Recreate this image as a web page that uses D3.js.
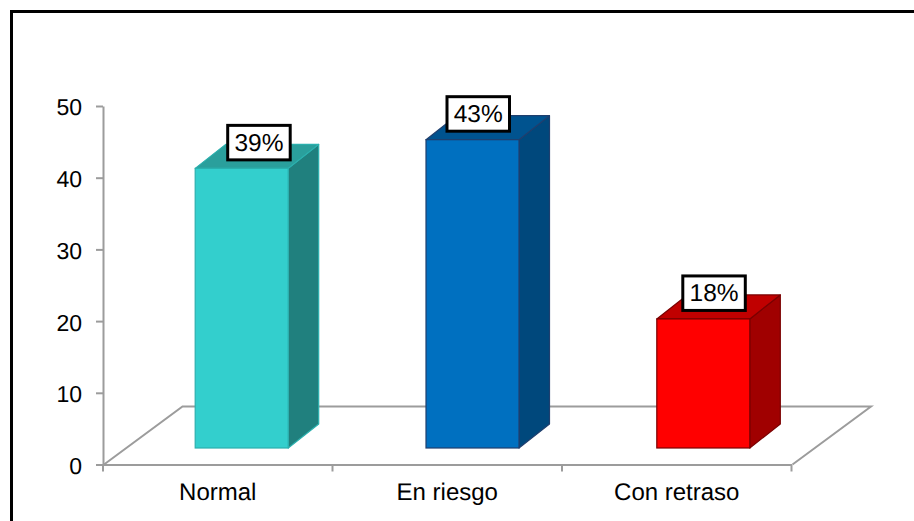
<!DOCTYPE html>
<html>
<head>
<meta charset="utf-8">
<script src="https://cdn.jsdelivr.net/npm/d3@7"></script>
<style>
html,body{margin:0;padding:0;background:#fff;overflow:hidden}
svg{display:block}
text{font-family:"Liberation Sans",Arial,sans-serif;fill:#000;text-rendering:geometricPrecision}
</style>
</head>
<body>
<svg id="chart" width="914" height="521"></svg>
<script>
const categories = ["Normal", "En riesgo", "Con retraso"];
const values = [39, 43, 18];
const percentLabels = ["39%", "43%", "18%"];
const yTicks = [0, 10, 20, 30, 40, 50];
const frontColors = ["#33CFCD", "#0070C0", "#FF0000"];
const topColors = ["#2A9F9C", "#00538F", "#C00000"];
const sideColors = ["#20807E", "#00487C", "#A00000"];
const edgeColors = ["#2BB0AE", "#1F3F6E", "#7A0000"];
const labelDx = [32.5, 21, 26];

const W = 914, H = 521;
const plot = {left: 103, right: 791.5, top: 106, bottom: 464.5};
const depth = {dx: 30.5, dy: -24};
const floorDepth = {dx: 78.5, dy: -58};
const baseLift = 16.5;
const barW = 93;

const svg = d3.select("#chart");
svg.append("rect").attr("x", 11.5).attr("y", 11.5).attr("width", W + 20).attr("height", H + 20)
  .attr("fill", "#fff").attr("stroke", "#000").attr("stroke-width", 3);

const x = d3.scaleBand().domain(categories).range([plot.left, plot.right]).padding(0);
const barBand = d3.scaleBand().domain(categories).range([195.2, 195.2 + 3 * 230.8]).padding(0);
const y = d3.scaleLinear().domain([0, 50]).range([plot.bottom, plot.top]);

// floor
const grey = "#9C9C9C";
const fx0 = plot.left + 1, fy0 = plot.bottom, fx1 = plot.right + 1;
svg.append("path")
  .attr("d", d3.line()([[fx0, fy0], [fx0 + floorDepth.dx, fy0 + floorDepth.dy], [fx1 + floorDepth.dx, fy0 + floorDepth.dy], [fx1, fy0]]))
  .attr("fill", "none").attr("stroke", grey).attr("stroke-width", 2);

// axes
const yAxis = svg.append("g").attr("transform", `translate(${plot.left},0)`)
  .call(d3.axisLeft(y).tickValues(yTicks).tickSize(7).tickSizeOuter(0).tickPadding(14));
const xAxis = svg.append("g").attr("transform", `translate(0,${plot.bottom})`)
  .call(d3.axisBottom(x).tickSize(0).tickPadding(18));
[yAxis, xAxis].forEach(g => {
  g.selectAll("path,line").attr("stroke", grey).attr("stroke-width", 2);
  g.selectAll("text").style("font-family", '"Liberation Sans",Arial,sans-serif').attr("fill", "#000");
});
yAxis.selectAll("text").style("font-size", "23px").attr("dy", "0.39em");
xAxis.selectAll("text").style("font-size", "24px").attr("dy", "0.73em");
// x tick marks on band boundaries
svg.append("g").selectAll("line").data(d3.range(categories.length + 1)).join("line")
  .attr("x1", i => plot.left + i * x.bandwidth()).attr("x2", i => plot.left + i * x.bandwidth())
  .attr("y1", plot.bottom).attr("y2", plot.bottom + 7)
  .attr("stroke", grey).attr("stroke-width", 2);

// bars
const bars = svg.append("g").selectAll("g").data(categories).join("g");
const barY = v => y(v) - baseLift;
const base = y(0) - baseLift;
bars.each(function (c, i) {
  const g = d3.select(this);
  const x0 = barBand(c), x1 = x0 + barW, t = barY(values[i]);
  const line = d3.line();
  g.append("path").attr("d", line([[x1, t], [x1 + depth.dx, t + depth.dy], [x1 + depth.dx, base + depth.dy], [x1, base]]) + "Z")
    .attr("fill", sideColors[i]).attr("stroke", edgeColors[i]).attr("stroke-width", 1.2).attr("stroke-linejoin", "round");
  g.append("path").attr("d", line([[x0, t], [x0 + depth.dx, t + depth.dy], [x1 + depth.dx, t + depth.dy], [x1, t]]) + "Z")
    .attr("fill", topColors[i]).attr("stroke", edgeColors[i]).attr("stroke-width", 1.2).attr("stroke-linejoin", "round");
  g.append("rect").attr("x", x0).attr("y", t).attr("width", barW).attr("height", base - t)
    .attr("fill", frontColors[i]).attr("stroke", edgeColors[i]).attr("stroke-width", 1.2);
  const bw = 62.5, bh = 34.5;
  const bx = x0 + labelDx[i], by = t - 8.5 - bh;
  g.append("rect").attr("x", bx).attr("y", by).attr("width", bw).attr("height", bh)
    .attr("fill", "#fff").attr("stroke", "#000").attr("stroke-width", 3);
  g.append("text").attr("x", bx + bw / 2).attr("y", by + bh / 2 + 8)
    .attr("text-anchor", "middle").style("font-size", "24.5px").text(percentLabels[i]);
});
</script>
</body>
</html>
